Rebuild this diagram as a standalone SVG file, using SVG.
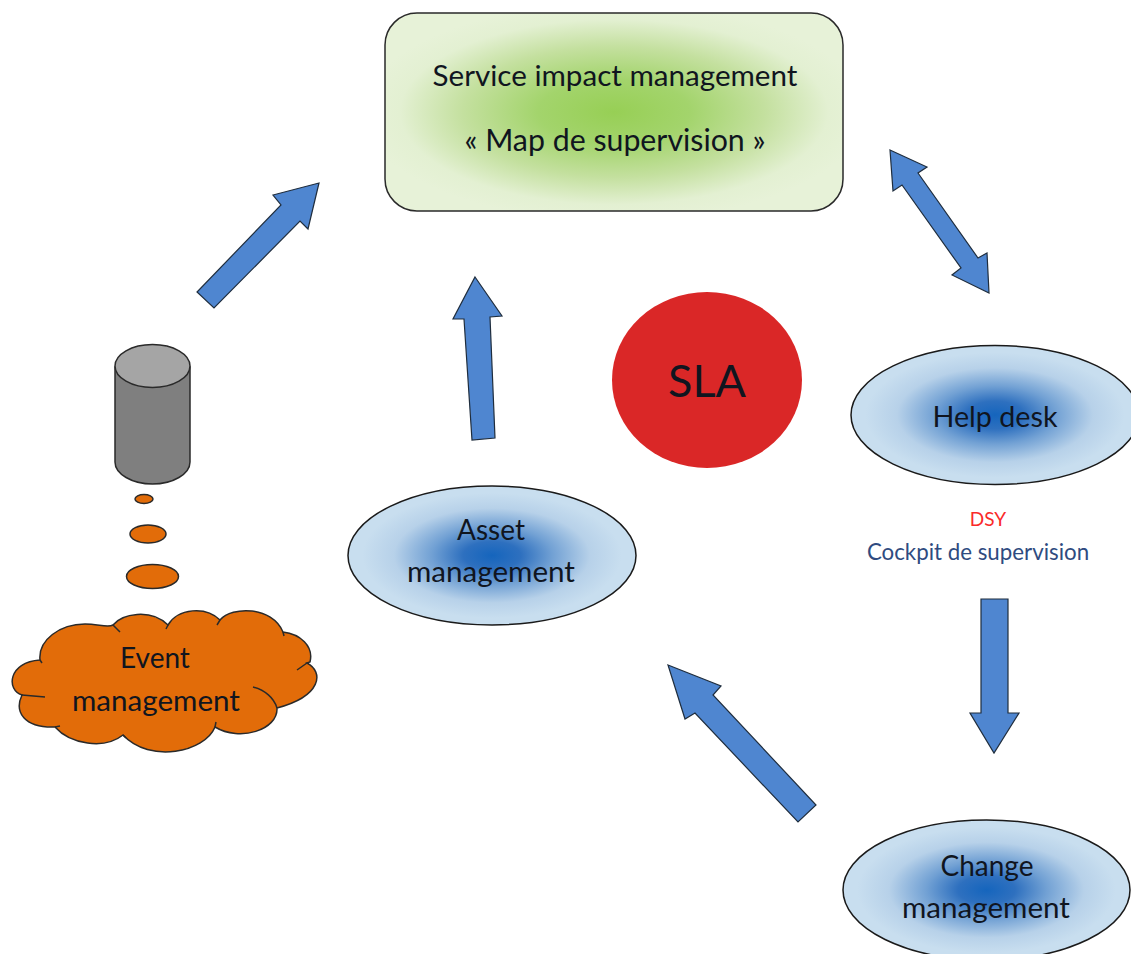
<svg xmlns="http://www.w3.org/2000/svg" width="1131" height="954" viewBox="0 0 1131 954">
<style>
text{font-family:"Lato","Open Sans","Liberation Sans",sans-serif;fill:#10151f;text-anchor:middle;font-size:28px}
.wide{font-size:29.600px}
.out{stroke:#2a2a2a;stroke-width:1.5}
.arrow{fill:#4f86d0;stroke:#1f2d3d;stroke-width:1.2;stroke-linejoin:miter}
.blob{fill:url(#blue);stroke:#1a1a1a;stroke-width:1.5}
.orange{fill:#e26c09;stroke:#2a2a2a;stroke-width:1.5}
</style>
<defs>
<radialGradient id="blue" cx="0.5" cy="0.5" r="0.5"><stop offset="0" stop-color="#1565bd"/><stop offset="0.2" stop-color="#2e70bf"/><stop offset="0.42" stop-color="#72a1d4"/><stop offset="0.68" stop-color="#b7d1e9"/><stop offset="0.9" stop-color="#c8deef"/><stop offset="1" stop-color="#c8deef"/></radialGradient>
<radialGradient id="green" cx="0.5" cy="0.5" r="0.55"><stop offset="0" stop-color="#97cf55"/><stop offset="0.3" stop-color="#a3d46c"/><stop offset="0.6" stop-color="#c4e09f"/><stop offset="0.85" stop-color="#e3f0d2"/><stop offset="1" stop-color="#e7f2d8"/></radialGradient>
</defs>
<rect width="1131" height="954" fill="#fff"/>
<g id="connectors">
<polygon class="arrow" points="319,183 308,229 300,221 214,308 197,292 281,205 273,195"/>
<polygon class="arrow" points="475,277 502,316 490,317 495,438 472,440 464,319 453,319"/>
<polygon class="arrow" points="890,150 927,167 918,173 978,258 987,253 989,293 952,275 961,268 902,185 893,191"/>
<polygon class="arrow" points="981,599 1008,599 1008,713 1019,713 994,753 970,713 981,713"/>
<polygon class="arrow" points="668,665 721,686 713,695 816,805 798,822 695,713 685,719"/>
</g>
<g id="service-impact">
<rect x="385" y="13" width="458" height="198" rx="32" ry="32" fill="url(#green)" class="out"/>
<text class="wide" x="615" y="86">Service impact management</text>
<text x="615" y="151" style="font-size:30.300px">« Map de supervision »</text>
</g>
<g id="sla">
<ellipse cx="707" cy="380" rx="95" ry="88" fill="#da2727"/>
<text x="707" y="397" style="font-size:45px">SLA</text>
</g>
<g id="help-desk">
<ellipse class="blob" cx="995" cy="415" rx="144" ry="69.500"/>
<text x="995" y="427" style="font-size:28.700px">Help desk</text>
</g>
<g id="dsy-label">
<text x="988" y="526" style="font-size:19px;fill:#fa2a2a">DSY</text>
<text x="978" y="560" style="font-size:22.300px;fill:#2f4b80">Cockpit de supervision</text>
</g>
<g id="asset">
<ellipse class="blob" cx="492" cy="555.500" rx="144" ry="69.500"/>
<text x="491" y="540">Asset</text>
<text class="wide" x="491" y="582">management</text>
</g>
<g id="change">
<ellipse class="blob" cx="986.500" cy="890" rx="143.500" ry="70"/>
<text x="987" y="876">Change</text>
<text class="wide" x="986" y="918">management</text>
</g>
<g id="database">
<path d="M115 367V462C115 474 132 484 152.500 484S190 474 190 462V367Z" fill="#7f7f7f" class="out"/>
<ellipse cx="152.500" cy="366" rx="37.500" ry="21.500" fill="#a5a5a5" class="out"/>
</g>
<g id="event-management">
<ellipse class="orange" cx="144" cy="499" rx="9" ry="4.500"/>
<ellipse class="orange" cx="148" cy="534" rx="18" ry="9"/>
<ellipse class="orange" cx="152.500" cy="576.500" rx="26" ry="12"/>
<path class="orange" d="M40 660C38 640 60 624 85 624C98 624 108 628 113 625C122 614 150 608 168 625C178 608 206 606 220 620C232 606 272 606 283 632C300 634 314 646 310 662L307 663C324 672 322 696 277 708C278 730 240 742 215 727C205 752 150 764 123 735C104 750 70 744 55 727C24 728 14 712 22 695C6 690 8 662 40 660Z"/>
<path d="M40 660L42 663M113 625L120 632M168 625L166 629M220 620L217 625M283 632L284 636M307 663L297 670M253 687C265 690 274 698 277 708M215 727L216 722M123 735L126 738M55 727L60 726M22 695L45 697" fill="none" stroke="#2a2a2a" stroke-width="1.500"/>
<text x="155" y="668">Event</text>
<text class="wide" x="156" y="711">management</text>
</g>
</svg>
